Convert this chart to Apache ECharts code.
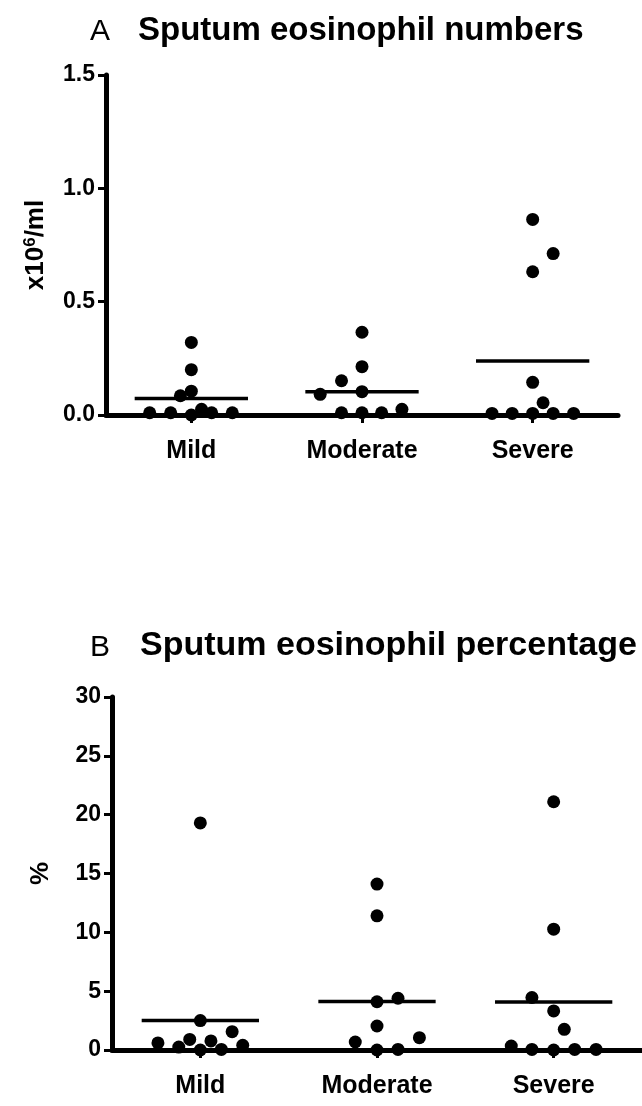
<!DOCTYPE html>
<html>
<head>
<meta charset="utf-8">
<script src="https://cdn.jsdelivr.net/npm/echarts@6/dist/echarts.min.js"></script>
<style>
html,body{margin:0;padding:0;background:#fff;}
#chart{width:642px;height:1106px;}
</style>
</head>
<body>
<div id="chart"></div>
<script>
// ---------- DATA ----------
const categories = ['Mild', 'Moderate', 'Severe'];

// Panel A: sputum eosinophil numbers (x10^6/ml)
const numbersMild      = [0.32, 0.20, 0.105, 0.085, 0.01, 0.01, 0.0, 0.025, 0.01, 0.01];
const numbersModerate  = [0.365, 0.213, 0.151, 0.091, 0.103, 0.01, 0.01, 0.01, 0.025];
const numbersSevere    = [0.863, 0.712, 0.632, 0.144, 0.054, 0.007, 0.007, 0.007, 0.007, 0.007];
const numbersMeans     = [0.073, 0.103, 0.238];
// beeswarm spread of each point within its group (category units)
const numbersSpreadMild     = [0, 0, 0, -0.064, -0.244, -0.121, 0, 0.06, 0.119, 0.24];
const numbersSpreadModerate = [0, 0, -0.12, -0.245, 0, -0.12, 0, 0.115, 0.234];
const numbersSpreadSevere   = [0, 0.12, 0, 0, 0.061, -0.238, -0.12, 0, 0.12, 0.24];
const numbersTicks = [0, 0.5, 1.0, 1.5];

// Panel B: sputum eosinophil percentage (%)
const percentMild      = [19.3, 2.5, 1.56, 0.6, 0.25, 0.9, 0, 0.77, 0.05, 0.4];
const percentModerate  = [14.1, 11.4, 4.1, 4.4, 2.04, 0.68, 0, 0.05, 1.05];
const percentSevere    = [21.1, 10.27, 4.46, 3.32, 1.76, 0.34, 0.05, 0, 0.05, 0.05];
const percentMeans     = [2.5, 4.12, 4.08];
const percentSpreadMild     = [0, 0, 0.18, -0.24, -0.122, -0.06, 0, 0.06, 0.119, 0.24];
const percentSpreadModerate = [0, 0, 0, 0.119, 0, -0.123, 0, 0.119, 0.24];
const percentSpreadSevere   = [0, 0, -0.123, 0, 0.06, -0.24, -0.123, 0, 0.119, 0.24];
const percentTicks = [0, 5, 10, 15, 20, 25, 30];

const meanHalfWidth = 0.332;

// ---------- BUILD ----------
const FONT = 'Liberation Sans, Arial, Helvetica, sans-serif';

function pts(groupIdx, vals, spread) {
  return vals.map((v, i) => [groupIdx + spread[i], v]);
}
function meanSeries(means, xAxisIndex, yAxisIndex) {
  return means.map((m, g) => ({
    type: 'line',
    xAxisIndex, yAxisIndex,
    data: [[g - meanHalfWidth, m], [g + meanHalfWidth, m]],
    symbol: 'none',
    lineStyle: { color: '#000', width: 3.5 },
    silent: true, z: 3
  }));
}

const chart = echarts.init(document.getElementById('chart'), null, { renderer: 'canvas' });

const xAxisLine = { show: true, onZero: false, lineStyle: { color: '#000', width: 5 } };
const yAxisLine = { show: true, onZero: false, lineStyle: { color: '#000', width: 5 } };
const axisTick = { show: true, length: 8, lineStyle: { color: '#000', width: 3 } };

function catAxis(gridIndex) {
  return {
    type: 'category', gridIndex, data: categories, boundaryGap: true,
    axisLine: xAxisLine, axisTick: Object.assign({ alignWithLabel: true }, axisTick),
    axisLabel: { color: '#000', fontFamily: FONT, fontWeight: 'bold', fontSize: 25, margin: 24 },
    splitLine: { show: false }
  };
}
function hiddenX(gridIndex) {
  return { type: 'value', gridIndex, min: -0.5, max: 2.5, show: false,
           axisLine: { onZero: false }, splitLine: { show: false } };
}

const option = {
  backgroundColor: '#fff',
  animation: false,
  graphic: [
    { type: 'text', left: 90, top: 17, style: { text: 'A', font: 'normal 30px ' + FONT, fill: '#000' } },
    { type: 'text', left: 138, top: 14, style: { text: 'Sputum eosinophil numbers', font: 'bold 33px ' + FONT, fill: '#000' } },
    { type: 'text', left: 90, top: 633, style: { text: 'B', font: 'normal 30px ' + FONT, fill: '#000' } },
    { type: 'text', left: 140, top: 629, style: { text: 'Sputum eosinophil percentage', font: 'bold 34px ' + FONT, fill: '#000' } }
  ],
  grid: [
    { left: 106, right: 24, top: 75, height: 340 },
    { left: 112, right: 0, top: 697, height: 353 }
  ],
  xAxis: [catAxis(0), hiddenX(0), catAxis(1), hiddenX(1)],
  yAxis: [
    {
      type: 'value', gridIndex: 0, min: numbersTicks[0], max: numbersTicks[numbersTicks.length - 1], interval: 0.5,
      position: 'left',
      axisLine: yAxisLine, axisTick,
      axisLabel: { color: '#000', fontFamily: FONT, fontWeight: 'bold', fontSize: 23, margin: 11,
                   formatter: v => v.toFixed(1) },
      splitLine: { show: false },
      name: '{a|x10}{s|6}{a|/ml}', nameLocation: 'middle', nameGap: 57, nameRotate: 90,
      nameTextStyle: { rich: {
        a: { fontFamily: FONT, fontWeight: 'bold', fontSize: 26, color: '#000', verticalAlign: 'bottom' },
        s: { fontFamily: FONT, fontWeight: 'bold', fontSize: 17, color: '#000', verticalAlign: 'top', padding: [0, 0, 10, 0] }
      } }
    },
    {
      type: 'value', gridIndex: 1, min: percentTicks[0], max: percentTicks[percentTicks.length - 1], interval: 5,
      position: 'left',
      axisLine: yAxisLine, axisTick,
      axisLabel: { color: '#000', fontFamily: FONT, fontWeight: 'bold', fontSize: 23, margin: 11 },
      splitLine: { show: false },
      name: '%', nameLocation: 'middle', nameGap: 58, nameRotate: 90,
      nameTextStyle: { fontFamily: FONT, fontWeight: 'bold', fontSize: 26, color: '#000' }
    }
  ],
  series: [
    {
      type: 'scatter', xAxisIndex: 1, yAxisIndex: 0, symbolSize: 13, clip: false, z: 4,
      itemStyle: { color: '#000', opacity: 1 },
      data: [].concat(pts(0, numbersMild, numbersSpreadMild),
                      pts(1, numbersModerate, numbersSpreadModerate),
                      pts(2, numbersSevere, numbersSpreadSevere))
    },
    ...meanSeries(numbersMeans, 1, 0),
    {
      type: 'scatter', xAxisIndex: 3, yAxisIndex: 1, symbolSize: 13, clip: false, z: 4,
      itemStyle: { color: '#000', opacity: 1 },
      data: [].concat(pts(0, percentMild, percentSpreadMild),
                      pts(1, percentModerate, percentSpreadModerate),
                      pts(2, percentSevere, percentSpreadSevere))
    },
    ...meanSeries(percentMeans, 3, 1)
  ]
};
chart.setOption(option);
</script>
</body>
</html>
